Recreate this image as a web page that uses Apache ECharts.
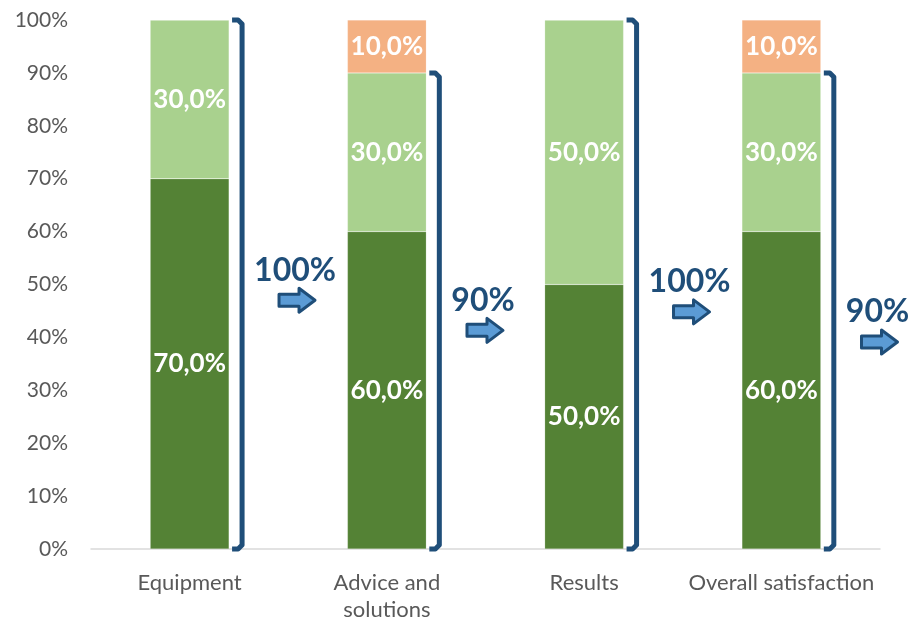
<!DOCTYPE html>
<html>
<head>
<meta charset="utf-8">
<script src="https://cdn.jsdelivr.net/npm/echarts@6/dist/echarts.min.js"></script>
<style>
  html, body { margin: 0; padding: 0; background: #fff; }
  #main { width: 910px; height: 618px; }
</style>
</head>
<body>
<div id="main"></div>
<script>
// survey results, share of answers per topic (%)
const categories = ['Equipment', 'Advice and\nsolutions', 'Results', 'Overall satisfaction']
const verySatisfied = [70, 60, 50, 60]
const satisfied = [30, 30, 50, 30]
const neutral = [0, 10, 0, 10]
const yTicks = [0, 10, 20, 30, 40, 50, 60, 70, 80, 90, 100]

// where the callout text sits on the value axis (hand placed in the original)
const calloutLevel = [52.7, 47, 50.5, 44.8]

const FONT = 'Lato, "Open Sans", sans-serif'
const NAVY = '#1F4E79'

const totals = categories.map((c, i) => verySatisfied[i] + satisfied[i])

const measureCtx = document.createElement('canvas').getContext('2d')
function textWidth (txt, font) {
  measureCtx.font = font
  return measureCtx.measureText(txt).width
}

const pct = v => v.toFixed(1).replace('.', ',') + '%'

function barSeries (name, data, color) {
  return {
    name: name,
    type: 'bar',
    stack: 'all',
    barWidth: '40%',
    data: data,
    itemStyle: { color: color, borderColor: 'rgba(255,255,255,0.35)', borderWidth: 0.5 },
    label: {
      show: true,
      position: 'inside',
      color: '#fff',
      fontFamily: FONT,
      fontWeight: 'bold',
      fontSize: 26,
      formatter: p => (p.value > 0 ? pct(p.value) : '')
    }
  }
}

function renderCallout (params, api) {
  const idx = api.value(0)
  const top = api.coord([idx, api.value(1)])
  const bottom = api.coord([idx, 0])
  const band = api.size([1, 0])[0]
  const bx = top[0] + band * 0.2 + 13
  const y0 = top[1]
  const y1 = bottom[1]

  const font = 'bold 32px ' + FONT
  const txt = api.value(1) + '%'
  const tx = bx + 12
  const ty = api.coord([idx, api.value(2)])[1]
  const cx = tx + textWidth(txt, font) / 2 + 2
  const ay = ty + 30

  // arrow pointing right
  const arrow = [
    [cx - 18, ay - 6], [cx + 2, ay - 6], [cx + 2, ay - 12], [cx + 18, ay],
    [cx + 2, ay + 12], [cx + 2, ay + 6], [cx - 18, ay + 6]
  ]

  return {
    type: 'group',
    children: [
      {
        type: 'polyline',
        shape: {
          points: [[bx - 10, y0], [bx - 4, y0], [bx, y0 + 4], [bx, y1 - 4], [bx - 4, y1], [bx - 10, y1]]
        },
        style: { stroke: NAVY, lineWidth: 5, fill: null, lineJoin: 'round' }
      },
      {
        type: 'text',
        style: {
          text: txt, x: tx, y: ty, font: font, fill: NAVY,
          textAlign: 'left', textVerticalAlign: 'middle'
        }
      },
      {
        type: 'polygon',
        shape: { points: arrow },
        style: { fill: '#5B9BD5', stroke: NAVY, lineWidth: 3, lineJoin: 'round' }
      }
    ]
  }
}

const chart = echarts.init(document.getElementById('main'))
chart.setOption({
  animation: false,
  grid: { left: 91, right: 30, top: 20, bottom: 69, outerBoundsMode: 'none' },
  xAxis: {
    type: 'category',
    data: categories,
    axisTick: { show: false },
    axisLine: { lineStyle: { color: '#D9D9D9', width: 1.5 } },
    axisLabel: {
      interval: 0, color: '#595959', fontFamily: FONT, fontSize: 22,
      margin: 20, lineHeight: 27
    }
  },
  yAxis: {
    type: 'value',
    min: yTicks[0],
    max: yTicks[yTicks.length - 1],
    interval: 10,
    splitLine: { show: false },
    axisLine: { show: false },
    axisLabel: { color: '#595959', fontFamily: FONT, fontSize: 21, margin: 23, formatter: '{value}%' }
  },
  series: [
    barSeries('Very satisfied', verySatisfied, '#548235'),
    barSeries('Satisfied', satisfied, '#A9D18E'),
    barSeries('Neutral', neutral, '#F4B183'),
    {
      type: 'custom',
      name: 'Satisfied total',
      renderItem: renderCallout,
      encode: { x: 0, y: 1 },
      z: 5,
      clip: false,
      data: categories.map((c, i) => [i, totals[i], calloutLevel[i]])
    }
  ]
})
</script>
</body>
</html>
